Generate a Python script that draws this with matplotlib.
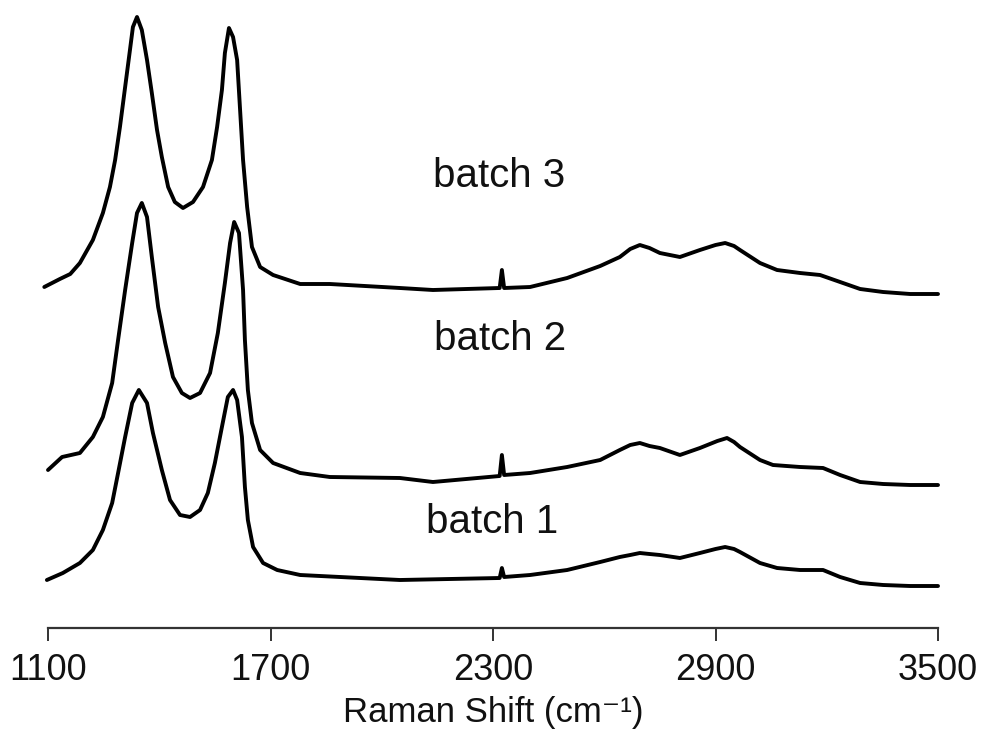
import matplotlib
matplotlib.use("Agg")
import matplotlib.pyplot as plt

plt.rcParams['font.family'] = ['Liberation Sans', 'DejaVu Sans']

# Raman shift (cm-1) and intensity (a.u.)
batch3_x = [1090, 1132, 1160, 1186, 1221, 1248, 1267, 1281, 1294, 1308, 1321, 1329, 1340,
            1353, 1367, 1380, 1394, 1407, 1424, 1442, 1464, 1491, 1518, 1542, 1556, 1569,
            1577, 1588, 1599, 1610, 1618, 1626, 1637, 1650, 1672, 1707, 1780, 1860, 2049,
            2138, 2318, 2324, 2330, 2400, 2500, 2589, 2642, 2670, 2696, 2722, 2750, 2804,
            2858, 2900, 2926, 2950, 2966, 3020, 3066, 3128, 3182, 3236, 3290, 3352, 3425,
            3500]
batch3_y = [341, 349, 354, 365, 388, 415, 441, 468, 501, 541, 578, 601, 611,
            598, 568, 535, 498, 471, 441, 426, 420, 426, 441, 468, 501, 538,
            575, 600, 591, 568, 518, 468, 421, 381, 361, 353, 344, 344, 340,
            338, 340, 358, 340, 341, 350, 362, 371, 379, 383, 380, 375, 371,
            378, 383, 385, 382, 378, 365, 358, 355, 353, 346, 339, 336, 334,
            334]

batch2_x = [1100, 1138, 1186, 1221, 1248, 1273, 1289, 1308, 1327, 1340, 1353, 1367, 1380,
            1397, 1416, 1437, 1461, 1483, 1510, 1537, 1558, 1577, 1591, 1602, 1615, 1626,
            1631, 1639, 1650, 1672, 1707, 1780, 1860, 2049, 2138, 2318, 2324, 2330, 2400,
            2500, 2589, 2642, 2670, 2696, 2722, 2750, 2804, 2858, 2905, 2931, 2950, 2966,
            3020, 3055, 3128, 3190, 3236, 3290, 3352, 3425, 3500]
batch2_y = [158, 171, 175, 191, 211, 245, 288, 338, 385, 415, 425, 411, 371,
            321, 285, 251, 235, 230, 235, 255, 295, 345, 385, 406, 395, 338,
            288, 238, 205, 178, 165, 155, 151, 150, 146, 152, 173, 153, 155,
            161, 168, 178, 183, 185, 182, 180, 173, 180, 187, 190, 186, 181,
            168, 163, 161, 160, 153, 146, 144, 143, 143]

batch1_x = [1097, 1140, 1186, 1221, 1248, 1273, 1289, 1308, 1327, 1345, 1367, 1383, 1407,
            1429, 1456, 1483, 1510, 1531, 1550, 1569, 1585, 1599, 1610, 1623, 1631, 1639,
            1653, 1680, 1718, 1780, 2049, 2318, 2324, 2330, 2400, 2500, 2589, 2642, 2670,
            2696, 2722, 2750, 2804, 2858, 2900, 2926, 2950, 2966, 3020, 3066, 3128, 3190,
            3236, 3290, 3352, 3425, 3500]
batch1_y = [48, 55, 65, 78, 98, 125, 155, 191, 225, 238, 225, 195, 158,
            128, 113, 111, 118, 135, 165, 201, 231, 238, 228, 191, 141, 108,
            81, 65, 58, 53, 48, 50, 60, 51, 53, 58, 66, 71, 73,
            75, 74, 73, 70, 75, 79, 81, 79, 76, 65, 60, 58, 58,
            51, 45, 43, 42, 42]

series_labels = ["batch 3", "batch 2", "batch 1"]
label_x = [2316, 2319, 2297]
label_y = [441, 278, 95]

xticks = [1100, 1700, 2300, 2900, 3500]

fig = plt.figure(figsize=(9.82, 7.40), dpi=100)
ax = fig.add_axes([48 / 982, 112 / 740, 890 / 982, 628 / 740])

for xs, ys in [(batch3_x, batch3_y), (batch2_x, batch2_y), (batch1_x, batch1_y)]:
    ax.plot(xs, ys, color='black', lw=2.8, solid_joinstyle='round',
            solid_capstyle='round', clip_on=False)

for txt, tx, ty in zip(series_labels, label_x, label_y):
    ax.text(tx, ty, txt, ha='center', va='baseline', fontsize=29, color='#111111')

ax.set_xlim(1100, 3500)
ax.set_ylim(0, 628)
ax.set_xticks(xticks)
ax.set_xticklabels([str(t) for t in xticks])
ax.set_yticks([])
for s in ['top', 'right', 'left']:
    ax.spines[s].set_visible(False)
ax.spines['bottom'].set_color('#333333')
ax.spines['bottom'].set_linewidth(1.6)
ax.tick_params(axis='x', direction='out', length=9, width=1.4, color='#333333',
               labelsize=26, pad=9, labelcolor='#111111')
ax.set_xlabel("Raman Shift (cm\u207b\u00b9)", fontsize=25, labelpad=6, color='#111111')

fig.savefig("out.png", dpi=100)
